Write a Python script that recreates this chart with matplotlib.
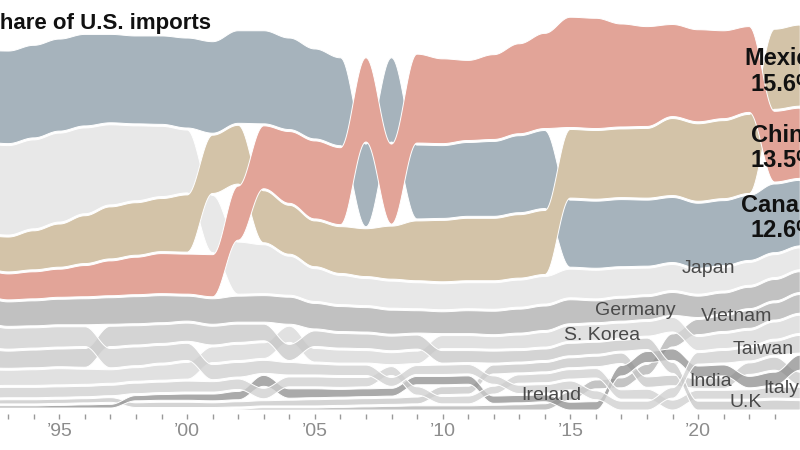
import numpy as np
import matplotlib
matplotlib.use('Agg')
import matplotlib.pyplot as plt

plt.rcParams['font.family'] = ['Liberation Sans', 'DejaVu Sans']

years = np.arange(1992, 2025)

# share of U.S. imports, %
canada = [17.6, 17.8, 17.8, 17.7, 17.6, 17.0, 16.9, 17.0, 17.3, 17.6, 17.8, 17.9, 17.6, 17.3, 16.9, 15.9, 16.2,
          14.2, 14.0, 14.2, 14.4, 14.8, 15.0, 12.9, 12.9, 12.9, 12.7, 12.5, 12.5, 12.5, 12.5, 13.2, 12.6]
china = [4.9, 5.0, 5.2, 5.4, 6.0, 6.7, 7.2, 7.7, 7.7, 8.1, 10.4, 12.1, 13.8, 15.0, 14.8, 16.2, 15.4,
         17.1, 16.3, 15.4, 16.3, 17.3, 18.3, 21.2, 21.2, 19.8, 19.2, 17.7, 17.7, 16.9, 16.5, 13.6, 13.5]
mexico = [6.3, 6.7, 7.5, 8.3, 9.2, 10.0, 10.1, 10.2, 11.0, 11.2, 11.3, 10.0, 9.4, 8.8, 9.0, 9.2, 10.2,
          11.5, 11.8, 12.0, 12.0, 12.2, 12.3, 13.2, 13.2, 13.2, 13.4, 14.8, 14.9, 15.0, 15.2, 15.4, 15.6]
japan = [17.2, 17.2, 17.1, 17.1, 16.5, 15.4, 14.4, 13.5, 12.1, 11.0, 10.0, 9.4, 7.5, 6.3, 5.6, 5.2, 5.2,
         5.0, 5.0, 5.0, 5.1, 5.2, 5.3, 5.5, 5.5, 5.3, 5.1, 5.0, 4.6, 4.5, 4.4, 4.4, 4.2]
germany = [4.8, 4.7, 4.8, 4.9, 5.0, 5.1, 5.2, 5.2, 4.8, 4.9, 5.0, 5.1, 5.2, 4.9, 4.8, 4.7, 4.6,
           4.3, 4.2, 4.4, 4.5, 4.6, 4.7, 4.6, 4.2, 4.4, 4.4, 4.4, 4.1, 4.0, 4.1, 4.1, 4.0]
taiwan = [4.3, 4.0, 3.9, 3.9, 3.8, 3.7, 3.6, 3.4, 3.3, 2.9, 2.8, 2.5, 2.4, 2.1, 2.0, 2.0, 1.7,
          1.7, 1.8, 1.8, 1.6, 1.6, 1.6, 1.7, 1.7, 1.7, 1.7, 2.0, 2.2, 2.4, 2.5, 2.7, 3.4]
uk = [3.6, 3.3, 3.4, 3.4, 3.6, 3.9, 3.7, 3.6, 3.5, 3.6, 3.5, 3.2, 3.1, 3.0, 2.8, 2.8, 2.8,
      2.7, 2.4, 2.3, 2.3, 2.2, 2.2, 2.4, 2.3, 2.1, 2.2, 2.1, 1.7, 1.7, 1.7, 1.9, 1.8]
korea = [3.1, 2.9, 3.0, 3.1, 2.9, 2.6, 2.6, 2.9, 3.2, 3.0, 3.1, 3.0, 3.1, 2.6, 2.5, 2.4, 2.3,
         2.4, 2.5, 2.5, 2.4, 2.6, 2.8, 3.0, 3.0, 2.9, 2.8, 2.8, 2.7, 2.9, 3.0, 3.3, 3.5]
italy = [2.0, 2.0, 2.0, 2.0, 2.0, 2.0, 2.0, 2.0, 2.1, 2.0, 2.0, 2.0, 1.9, 1.9, 1.9, 1.8, 1.7,
         1.6, 1.4, 1.5, 1.5, 1.6, 1.7, 1.8, 1.8, 1.8, 1.9, 1.9, 1.7, 1.7, 1.8, 2.1, 2.2]
ireland = [0.4, 0.4, 0.4, 0.5, 0.6, 0.7, 1.0, 1.1, 1.2, 1.3, 1.6, 2.1, 1.8, 1.7, 1.5, 1.5, 1.5,
           1.6, 1.6, 1.6, 1.4, 1.4, 1.3, 1.5, 1.6, 2.0, 2.1, 2.2, 2.1, 2.1, 2.2, 2.5, 2.9]
india = [0.7, 0.8, 0.8, 0.8, 0.8, 0.9, 0.9, 1.0, 1.0, 0.9, 1.0, 1.0, 1.1, 1.2, 1.2, 1.2, 1.2,
         1.3, 1.5, 1.5, 1.7, 1.7, 1.8, 1.9, 2.0, 2.0, 2.0, 2.0, 1.8, 2.0, 2.2, 2.5, 2.5]
vietnam = [0.0, 0.0, 0.0, 0.0, 0.0, 0.0, 0.1, 0.1, 0.1, 0.1, 0.2, 0.4, 0.4, 0.4, 0.5, 0.6, 0.7,
           0.8, 0.8, 0.8, 0.9, 1.0, 1.2, 1.6, 1.7, 1.9, 2.0, 2.5, 2.9, 3.0, 3.4, 3.3, 3.6]

names = ['Canada', 'China', 'Mexico', 'Japan', 'Germany', 'Taiwan', 'U.K', 'S. Korea',
         'Italy', 'Ireland', 'India', 'Vietnam']
series = [canada, china, mexico, japan, germany, taiwan, uk, korea, italy, ireland, india, vietnam]
colors = ['#a6b3bc', '#e2a498', '#d3c3a8', '#e8e8e8', '#acacac', '#cecece', '#c6c6c6', '#d7d7d7',
          '#cecece', '#8e8e8e', '#c6c6c6', '#b0b0b0']
alphas = [1, 1, 1, 1, .75, .75, .75, .75, .75, .75, .75, .75]
draw_order = [11, 10, 9, 8, 7, 6, 5, 4, 3, 0, 2, 1]

# labels at the right edge (latest values)
big_labels = ['Mexico', 'China', 'Canada']
big_values = ['15.6%', '13.5%', '12.6%']
big_x = 2023.36
big_name_y = [66.35, 51.54, 38.08]
big_value_y = [61.35, 46.73, 33.27]

small_labels = ['Japan', 'Germany', 'S. Korea', 'Vietnam', 'Taiwan', 'Ireland', 'India', 'U.K', 'Italy']
small_x = [2020.39, 2017.53, 2016.24, 2021.52, 2022.54, 2014.24, 2020.50, 2021.87, 2023.24]
small_y = [26.35, 18.27, 13.46, 17.12, 10.77, 1.92, 4.62, 0.58, 3.27]

tick_years = [1995, 2000, 2005, 2010, 2015, 2020]
tick_text = ['\u201995', '\u201900', '\u201905', '\u201910', '\u201915', '\u201920']

px_per = 5.2      # pixels per percentage point
gap = 2 / px_per

shares = np.array(series, dtype=float)
lo = np.zeros_like(shares)
hi = np.zeros_like(shares)
for j in range(len(years)):
    order = np.argsort(shares[:, j], kind='stable')
    y = 0.0
    for i in order:
        lo[i, j] = y
        hi[i, j] = y + shares[i, j]
        y = hi[i, j] + gap

t = np.linspace(years[0], years[-1], 4000)
idx = np.clip(np.floor(t - years[0]).astype(int), 0, len(years) - 2)
f = t - years[idx]
s = (1 - np.cos(np.pi * f)) / 2


def ease(v):
    return v[idx] + (v[idx + 1] - v[idx]) * s


fig = plt.figure(figsize=(8, 4.5), dpi=100)
ax = fig.add_axes([0, 36 / 450, 1, 414 / 450])

for i in draw_order:
    fc = matplotlib.colors.to_rgba(colors[i], alphas[i])
    ax.fill_between(t, ease(lo[i]), ease(hi[i]), facecolor=fc, edgecolor='white', linewidth=0.7)

for name, val, yn, yv in zip(big_labels, big_values, big_name_y, big_value_y):
    ax.text(big_x, yn, name, ha='center', va='baseline', fontsize=17, fontweight='bold', color='#111111')
    ax.text(big_x, yv, val, ha='center', va='baseline', fontsize=17, fontweight='bold', color='#111111')

for name, x, y in zip(small_labels, small_x, small_y):
    ax.text(x, y, name, ha='center', va='baseline', fontsize=14, color='#4a4a4a')

ax.set_xticks(tick_years)
ax.set_xticklabels(tick_text)
ax.set_xticks(years, minor=True)
ax.tick_params(axis='x', which='both', direction='out', length=3.8, width=1.0, color='#999999',
               labelsize=14, labelcolor='#8c8c8c', pad=2.5)
ax.set_yticks([])
ax.set_xlim(1992.675, 2023.99)
ax.set_ylim(-4 / px_per, 410 / px_per)
for sp in ax.spines.values():
    sp.set_visible(False)

fig.text(-15 / 800, 1 - 29.5 / 450, 'Share of U.S. imports', fontsize=16, fontweight='bold',
         ha='left', va='baseline', color='#111111')

fig.savefig('out.png', dpi=100)
